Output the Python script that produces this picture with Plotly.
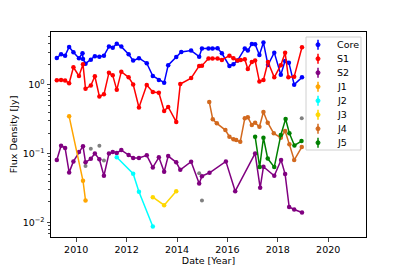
import plotly.graph_objects as go

# ---------------- data ----------------
core_t = [2009.23, 2009.40, 2009.56, 2009.72, 2009.89, 2010.11, 2010.25, 2010.27, 2010.37, 2010.58,
          2010.74, 2010.92, 2011.10, 2011.30, 2011.45, 2011.61, 2011.79, 2012.08, 2012.26, 2012.49,
          2012.80, 2013.04, 2013.28, 2013.49, 2013.65, 2013.97, 2014.17, 2014.56, 2014.88, 2014.99,
          2015.25, 2015.41, 2015.61, 2015.78, 2016.08, 2016.24, 2016.40, 2016.69, 2016.81, 2016.97,
          2017.10, 2017.27, 2017.43, 2017.61, 2017.86, 2018.12, 2018.29, 2018.44, 2018.65, 2018.96]
core_f = [2.47, 2.80, 2.67, 3.57, 2.99, 2.45, 2.89, 2.39, 2.04, 2.33,
          2.62, 2.58, 2.67, 3.61, 3.49, 3.99, 3.61, 2.80, 2.26, 2.45,
          2.07, 1.35, 1.18, 1.08, 1.94, 2.56, 3.02, 3.16, 2.58, 3.38,
          3.38, 3.38, 3.42, 2.89, 1.89, 2.00, 2.26, 3.38, 3.16, 3.95,
          3.91, 2.73, 4.14, 1.95, 2.95, 1.41, 2.24, 2.11, 1.01, 1.29]

s1_t = [2009.23, 2009.40, 2009.56, 2009.72, 2009.89, 2010.11, 2010.27, 2010.37, 2010.58, 2010.74,
        2010.92, 2011.10, 2011.30, 2011.45, 2011.61, 2011.79, 2012.08, 2012.26, 2012.49, 2012.80,
        2013.04, 2013.28, 2013.49, 2013.65, 2013.97, 2014.13, 2014.56, 2014.88, 2014.99, 2015.25,
        2015.41, 2015.61, 2015.78, 2016.08, 2016.24, 2016.40, 2016.53, 2016.69, 2016.81, 2016.97,
        2017.10, 2017.27, 2017.43, 2017.61, 2017.86, 2018.12, 2018.29, 2018.42, 2018.65, 2018.96]
s1_f = [1.17, 1.18, 1.16, 1.06, 1.81, 1.35, 2.00, 0.88, 0.98, 1.34,
        0.68, 0.73, 1.51, 1.38, 0.85, 1.56, 1.29, 1.02, 0.47, 1.00,
        0.79, 0.77, 0.42, 0.48, 0.29, 1.03, 1.26, 1.89, 1.91, 2.42,
        2.42, 2.42, 2.31, 2.67, 2.45, 2.26, 2.31, 2.37, 1.71, 2.16,
        2.26, 1.12, 1.18, 2.16, 1.29, 1.94, 2.95, 1.29, 1.32, 3.53]

s2_t = [2009.23, 2009.40, 2009.56, 2009.72, 2009.89, 2010.11, 2010.27, 2010.37, 2010.58, 2010.74,
        2010.92, 2011.10, 2011.30, 2011.45, 2011.61, 2011.79, 2012.08, 2012.26, 2012.49, 2012.80,
        2013.04, 2013.28, 2013.49, 2013.65, 2013.97, 2014.13, 2014.56, 2014.88, 2014.99, 2015.29,
        2015.94, 2016.31, 2017.10, 2017.30, 2017.43, 2017.86, 2018.13, 2018.29, 2018.45, 2018.65,
        2018.96]
s2_f = [0.081, 0.131, 0.121, 0.0536, 0.0775, 0.106, 0.129, 0.075, 0.0846, 0.101,
        0.083, 0.0479, 0.101, 0.106, 0.103, 0.113, 0.0958, 0.0866, 0.0866, 0.0948,
        0.0634, 0.0887, 0.0547, 0.0926, 0.075, 0.0585, 0.0765, 0.037, 0.0473, 0.0529,
        0.0775, 0.0286, 0.101, 0.032, 0.0647, 0.0479, 0.081, 0.0506, 0.0169, 0.0155,
        0.014]

j1_t = [2009.72, 2010.27, 2010.37]
j1_f = [0.35, 0.0405, 0.021]

j2_t = [2011.61, 2012.26, 2012.49, 2013.04]
j2_f = [0.0887, 0.0512, 0.028, 0.00877]

j3_t = [2013.04, 2013.49, 2013.97]
j3_f = [0.0234, 0.0179, 0.0286]

j4_t = [2015.28, 2015.42, 2015.58, 2015.92, 2016.08, 2016.24, 2016.35, 2016.51, 2016.69, 2016.81,
        2016.97, 2017.10, 2017.27, 2017.43, 2017.60, 2017.84, 2018.12, 2018.29, 2018.46, 2018.65,
        2018.95]
j4_f = [0.566, 0.317, 0.277, 0.221, 0.177, 0.162, 0.158, 0.150, 0.327, 0.339,
        0.262, 0.283, 0.247, 0.404, 0.283, 0.198, 0.171, 0.214, 0.137, 0.081,
        0.125]

j5_t = [2017.10, 2017.28, 2017.43, 2017.60, 2017.86, 2018.12, 2018.31, 2018.46, 2018.66, 2018.94]
j5_f = [0.177, 0.064, 0.171, 0.0851, 0.064, 0.187, 0.32, 0.198, 0.132, 0.153]

grey_t = [2010.37, 2010.58, 2010.92, 2011.10, 2014.88, 2014.99, 2018.95]
grey_f = [0.0662, 0.118, 0.131, 0.080, 0.0519, 0.021, 0.327]

series_names = ["Core", "S1", "S2", "J1", "J2", "J3", "J4", "J5"]
series_t = [core_t, s1_t, s2_t, j1_t, j2_t, j3_t, j4_t, j5_t]
series_f = [core_f, s1_f, s2_f, j1_f, j2_f, j3_f, j4_f, j5_f]
series_colors = ["blue", "red", "purple", "orange", "cyan", "gold", "chocolate", "green"]

x_ticks = [2010, 2012, 2014, 2016, 2018, 2020]
y_ticks = [0.01, 0.1, 1]
y_ticktext = ["10<sup>−2</sup>", "10<sup>−1</sup>", "10<sup>0</sup>"]

# ---------------- figure ----------------
W, H = 407, 271
ML, MR, MT, MB = 51, 41, 32, 34
PW, PH = W - ML - MR, H - MT - MB


def px_x(p):
    return (p - ML) / PW


def px_y(p):
    return (H - MB - p) / PH


fig = go.Figure()

fig.add_trace(go.Scatter(x=grey_t, y=grey_f, mode="markers",
                         marker=dict(color="grey", size=4), showlegend=False))

for name, t, f, c in zip(series_names, series_t, series_f, series_colors):
    fig.add_trace(go.Scatter(x=t, y=f, mode="lines+markers", name=name,
                             line=dict(color=c, width=1.5),
                             marker=dict(color=c, size=4.5), showlegend=False))

# manual legend (matplotlib-style, compact rows)
shapes = [dict(type="rect", xref="paper", yref="paper",
               x0=px_x(306), x1=px_x(361), y0=px_y(150), y1=px_y(37),
               line=dict(color="#d0d0d0", width=1), fillcolor="rgba(255,255,255,0.85)",
               layer="above")]
annotations = []
row0, drow = 44.7, 14.0
for i, (name, c) in enumerate(zip(series_names, series_colors)):
    yc = row0 + drow * i
    shapes.append(dict(type="line", xref="paper", yref="paper",
                       x0=px_x(318), x1=px_x(318), y0=px_y(yc - 5), y1=px_y(yc + 5),
                       line=dict(color=c, width=1.5), layer="above"))
    shapes.append(dict(type="circle", xref="paper", yref="paper",
                       x0=px_x(316), x1=px_x(320), y0=px_y(yc + 2), y1=px_y(yc - 2),
                       line=dict(color=c, width=1), fillcolor=c, layer="above"))
    annotations.append(dict(text=name, xref="paper", yref="paper",
                            x=px_x(335), y=px_y(yc), xanchor="left", yanchor="middle",
                            showarrow=False, font=dict(size=9.5, color="black")))

minor_vals = []
for d in [0.001, 0.01, 0.1, 1]:
    for k in range(2, 10):
        minor_vals.append(k * d)

fig.update_layout(
    width=W, height=H,
    margin=dict(l=ML, r=MR, t=MT, b=MB),
    paper_bgcolor="white", plot_bgcolor="white",
    font=dict(family="DejaVu Sans", size=9.5, color="black"),
    showlegend=False,
    shapes=shapes, annotations=annotations,
    xaxis=dict(range=[2009.0, 2021.5], tickvals=x_ticks, ticks="outside", ticklen=3.5,
               showline=True, linecolor="black", linewidth=1, mirror=True,
               showgrid=False, zeroline=False, automargin=False,
               title=dict(text="Date [Year]", standoff=2, font=dict(size=9.5))),
    yaxis=dict(type="log", range=[-2.21, 0.77], tickvals=y_ticks, ticktext=y_ticktext,
               ticks="outside", ticklen=3.5,
               showline=True, linecolor="black", linewidth=1, mirror=True,
               showgrid=False, zeroline=False, automargin=False,
               minor=dict(tickvals=minor_vals, ticks="outside", ticklen=2, showgrid=False),
               title=dict(text="Flux Density [Jy]", standoff=3, font=dict(size=9.5))),
)

fig.write_html("out.html",
               config={"displayModeBar": False},
               post_script="document.body.style.margin='0';document.body.style.padding='0';")
